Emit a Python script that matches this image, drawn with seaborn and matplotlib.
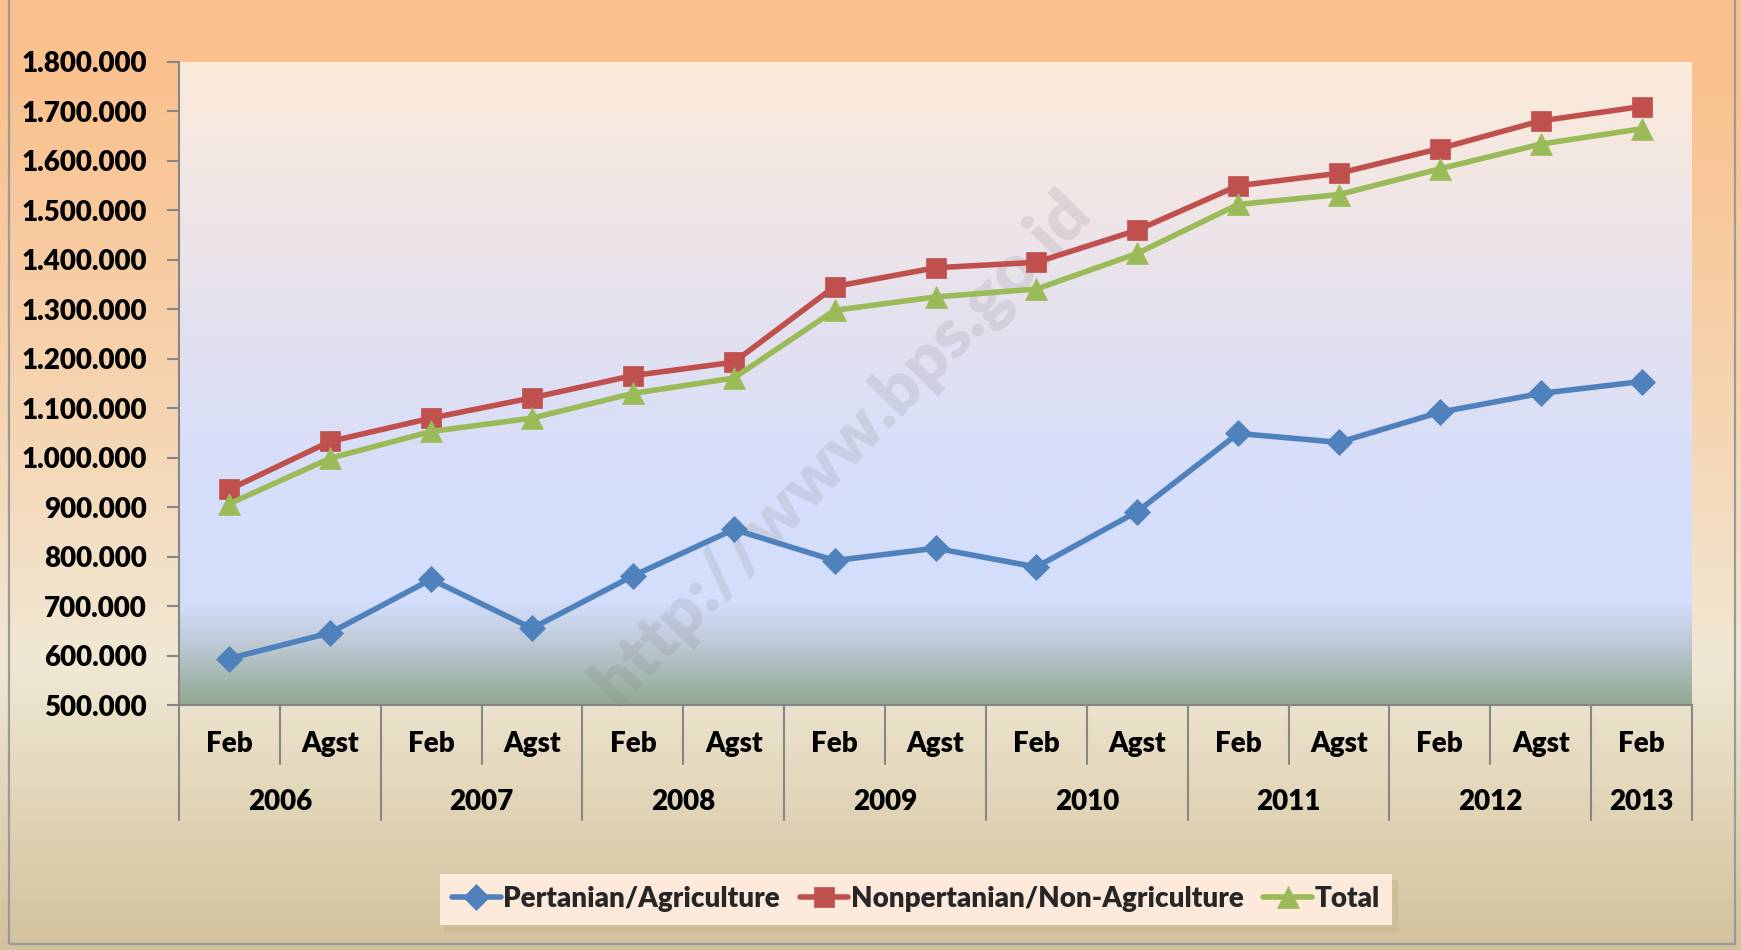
import numpy as np
import pandas as pd
import matplotlib
matplotlib.use("Agg")
import matplotlib.pyplot as plt
import seaborn as sns
from matplotlib.colors import LinearSegmentedColormap
from matplotlib.patches import Rectangle
from matplotlib.lines import Line2D

# ---------------- data ----------------
months = ["Feb", "Agst", "Feb", "Agst", "Feb", "Agst", "Feb", "Agst",
          "Feb", "Agst", "Feb", "Agst", "Feb", "Agst", "Feb"]
years = ["2006", "2007", "2008", "2009", "2010", "2011", "2012", "2013"]
year_spans = [2, 2, 2, 2, 2, 2, 2, 1]

agriculture = [594000, 646000, 754000, 655000, 761000, 855000, 792000, 817000,
               779000, 891000, 1049000, 1031000, 1092000, 1130000, 1154000]
non_agriculture = [936000, 1033000, 1080000, 1121000, 1166000, 1193000, 1346000, 1384000,
                   1395000, 1460000, 1550000, 1575000, 1625000, 1681000, 1710000]
total = [907000, 999000, 1053000, 1080000, 1130000, 1161000, 1298000, 1325000,
         1341000, 1413000, 1512000, 1532000, 1584000, 1634000, 1665000]

series_names = ["Pertanian/Agriculture", "Nonpertanian/Non-Agriculture", "Total"]
series_colors = ["#4F81BD", "#C0504D", "#9BBB59"]
series_markers = ["D", "s", "^"]

y_ticks = [500000, 600000, 700000, 800000, 900000, 1000000, 1100000, 1200000,
           1300000, 1400000, 1500000, 1600000, 1700000, 1800000]

# ---------------- frame ----------------
sns.set_theme(style="white")
plt.rcParams['font.family'] = ['Lato', 'DejaVu Sans']
plt.rcParams['font.weight'] = 'heavy'
FW = "heavy"
FS = 20

W, H = 1741, 950
fig = plt.figure(figsize=(W / 100, H / 100), dpi=100)

# figure background gradient
bg = fig.add_axes([0, 0, 1, 1], zorder=-10)
bg_cmap = LinearSegmentedColormap.from_list(
    "bg", [(0.0, "#FAC08F"), (0.10, "#FAC290"), (0.45, "#F5D6B3"),
           (0.70, "#F0E8D4"), (1.0, "#D2C29C")])
grad = np.linspace(0, 1, 256).reshape(-1, 1)
bg.imshow(grad, aspect="auto", cmap=bg_cmap, extent=[0, 1, 1, 0])
bg.set_xlim(0, 1)
bg.set_ylim(1, 0)
bg.axis("off")
bg.add_patch(Rectangle((9 / W, 6 / H), (1735 - 9) / W, 1.2, transform=bg.transAxes,
                       fill=False, edgecolor="#9A9A9A", linewidth=1.6, clip_on=False))

# plot axes
left, right, top, bottom = 179, 1692, 62, 705
ax = fig.add_axes([left / W, 1 - bottom / H, (right - left) / W, (bottom - top) / H])
ax.set_facecolor("none")

plot_cmap = LinearSegmentedColormap.from_list(
    "pl", [(0.0, "#FDEBDA"), (0.40, "#E4E1EF"), (0.65, "#D6DEFA"),
           (0.84, "#D3DEFC"), (0.90, "#C0CCDA"), (1.0, "#92A992")])
ax.imshow(grad, aspect="auto", cmap=plot_cmap, extent=[0, 1, 0, 1],
          transform=ax.transAxes, zorder=0)

x_idx = list(range(len(months)))
df = pd.DataFrame({
    "idx": x_idx * 3,
    "value": agriculture + non_agriculture + total,
    "series": [series_names[0]] * len(x_idx) + [series_names[1]] * len(x_idx)
              + [series_names[2]] * len(x_idx),
})

sns.lineplot(data=df, x="idx", y="value", hue="series", style="series",
             hue_order=series_names, style_order=series_names,
             palette=dict(zip(series_names, series_colors)),
             markers=dict(zip(series_names, series_markers)),
             dashes=False, linewidth=4.0, markersize=15, ax=ax, zorder=3)

for ln in ax.lines:
    ln.set_markeredgecolor(ln.get_color())
    ln.set_markeredgewidth(0.5)
    if ln.get_marker() == "D":
        ln.set_markersize(13)
    if ln.get_marker() == "^":
        ln.set_markersize(16)

handles, labels = ax.get_legend_handles_labels()
if ax.get_legend() is not None:
    ax.get_legend().remove()

# watermark
ax.text(0.438, 0.40, "http://www.bps.go.id", transform=ax.transAxes,
        rotation=46, ha="center", va="center", fontsize=50, fontweight="heavy",
        color="#808080", alpha=0.17, zorder=2)

# axes formatting
ax.set_xlim(-0.5, len(months) - 0.5)
ax.set_ylim(y_ticks[0], y_ticks[-1])
ax.set_yticks(y_ticks)
ax.set_yticklabels([f"{v:,.0f}".replace(",", ".") for v in y_ticks],
                   fontsize=FS, fontweight=FW, color="black")
ax.set_xticks([])
ax.set_xlabel("")
ax.set_ylabel("")
for s in ["top", "right"]:
    ax.spines[s].set_visible(False)
for s in ["left", "bottom"]:
    ax.spines[s].set_color("#868686")
    ax.spines[s].set_linewidth(1.5)
ax.tick_params(axis="y", which="major", left=True, length=9, width=1.5,
               color="#868686", pad=14)

# hierarchical category axis
trans = ax.get_xaxis_transform()
ph = bottom - top
month_sep_y = -(764 - bottom) / ph
year_sep_y = -(820 - bottom) / ph
month_lbl_y = -(744 - bottom) / ph
year_lbl_y = -(802 - bottom) / ph

for i, m in enumerate(months):
    ax.text(i, month_lbl_y, m, transform=trans, ha="center", va="center",
            fontsize=FS, fontweight=FW, color="black")

pos = -0.5
boundaries = [pos]
for y_lbl, span in zip(years, year_spans):
    center = pos + span / 2
    ax.text(center, year_lbl_y, y_lbl, transform=trans, ha="center", va="center",
            fontsize=FS, fontweight=FW, color="black")
    for k in range(1, span):
        ax.add_line(Line2D([pos + k, pos + k], [0, month_sep_y], transform=trans,
                           color="#868686", linewidth=1.5, clip_on=False))
    pos += span
    boundaries.append(pos)
for b in boundaries:
    ax.add_line(Line2D([b, b], [0, year_sep_y], transform=trans,
                       color="#868686", linewidth=1.5, clip_on=False))

# legend
leg = fig.legend(handles, labels, loc="center", bbox_to_anchor=(916 / W, 1 - 899 / H),
                 ncol=3, frameon=True, fancybox=False,
                 prop={"weight": FW, "size": 20},
                 handlelength=1.75, handletextpad=0.1, columnspacing=0.7,
                 borderpad=0.45, borderaxespad=0,
                 shadow={"color": "#C9B88F", "alpha": 0.5, "ox": 3, "oy": -5})
leg.get_frame().set_facecolor("#FDEADA")
leg.get_frame().set_edgecolor("none")
leg.get_frame().set_alpha(1)

fig.savefig("out.png", dpi=100)
